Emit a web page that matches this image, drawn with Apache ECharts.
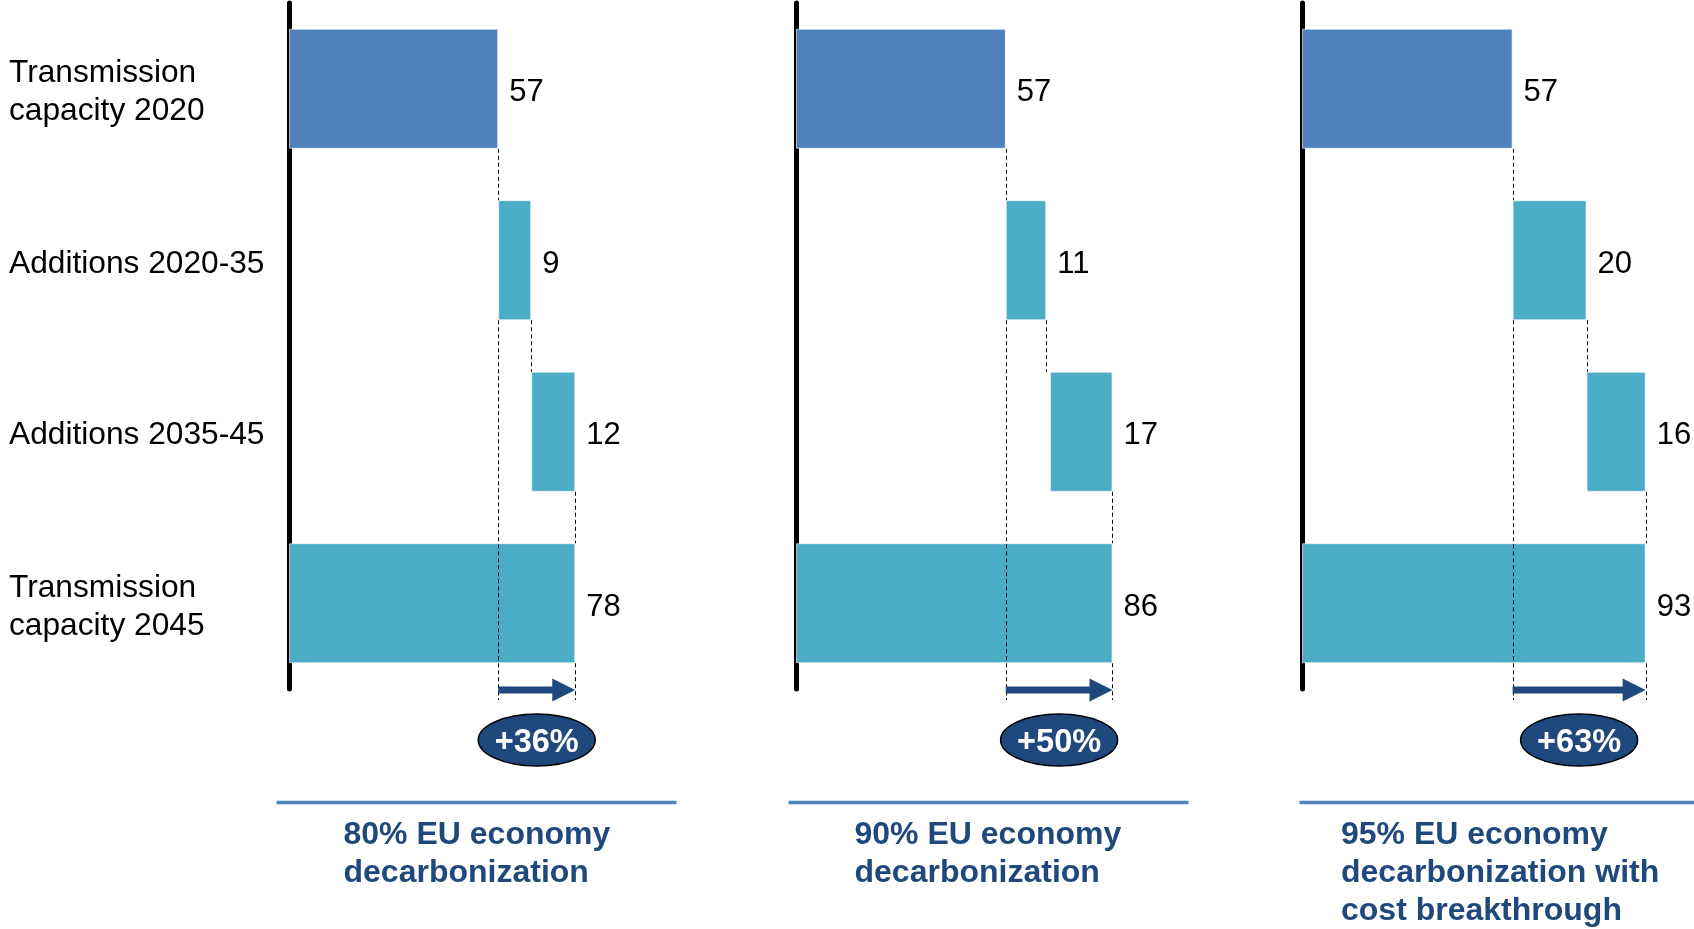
<!DOCTYPE html>
<html>
<head>
<meta charset="utf-8">
<script src="https://cdn.jsdelivr.net/npm/echarts@6/dist/echarts.min.js"></script>
<style>
  html, body { margin: 0; padding: 0; background: #fff; }
  #chart { width: 1694px; height: 929px; }
</style>
</head>
<body>
<div id="chart"></div>
<script>
// Rows of each waterfall (top to bottom)
const categories = ['Transmission\ncapacity 2020', 'Additions 2020-35', 'Additions 2035-45', 'Transmission\ncapacity 2045'];

// One panel per decarbonization scenario
const scenarios = [
  '80% EU economy\ndecarbonization',
  '90% EU economy\ndecarbonization',
  '95% EU economy\ndecarbonization with\ncost breakthrough'
];

// Transmission capacity values per scenario
const capacity2020 = [57, 57, 57];
const additions2020to35 = [9, 11, 20];
const additions2035to45 = [12, 17, 16];
const capacity2045 = [78, 86, 93];
const growthLabels = ['+36%', '+50%', '+63%'];

const FONT = "'Liberation Sans', Arial, Helvetica, sans-serif";
const NAVY = '#1F497D';
const BLUE = '#4F81BD';
const TEAL = '#4BACC6';

// Panel layout in pixels
const gridLefts = [289, 796, 1302];
const gridWidths = [367, 368, 369.5];   // each spans 0..100 on the value axis
const titleLefts = [343.5, 854.5, 1341];
const ruleSpans = [[276.5, 676.5], [788.5, 1188.5], [1299.5, 1694]];

const chart = echarts.init(document.getElementById('chart'), null, { renderer: 'canvas' });

const grid = [], xAxis = [], yAxis = [], series = [], title = [], graphic = [];

// a thin spacer line on top nudges the row labels slightly downward
const rowLabel = v => '{s| }\n' + v.split('\n').map(s => '{l|' + s + '}').join('\n');

scenarios.forEach((name, i) => {
  const base = capacity2020[i];
  const a1 = additions2020to35[i];
  const a2 = additions2035to45[i];
  const total = capacity2045[i];
  const a1End = base + a1;
  const a2Start = total - a2;

  grid.push({ left: gridLefts[i], top: 3, width: gridWidths[i], height: 686 });
  xAxis.push({ type: 'value', gridIndex: i, min: 0, max: 100, show: false });
  yAxis.push({
    type: 'category', gridIndex: i, inverse: true, data: categories,
    offset: 2.5,
    axisLine: { show: true, lineStyle: { color: '#000', width: 5 } },
    axisTick: { show: false },
    splitLine: { show: false },
    axisLabel: {
      show: i === 0, align: 'left', margin: 277.5,
      formatter: rowLabel,
      rich: {
        s: { fontSize: 1, lineHeight: 8 },
        l: { fontFamily: FONT, fontSize: 31.7, lineHeight: 38, color: '#000', align: 'left' }
      }
    }
  });

  // invisible offsets that float the addition bars
  series.push({
    type: 'bar', xAxisIndex: i, yAxisIndex: i, stack: 'w' + i,
    barWidth: '70%', silent: true,
    itemStyle: { color: 'rgba(0,0,0,0)' },
    data: [0, base, a2Start, 0]
  });

  series.push({
    type: 'bar', xAxisIndex: i, yAxisIndex: i, stack: 'w' + i,
    barWidth: '70%',
    itemStyle: { borderColor: 'rgba(255,255,255,0.6)', borderWidth: 1 },
    label: {
      show: true, position: 'right', distance: 11, offset: [0, 4],
      fontFamily: FONT, fontSize: 31, color: '#000'
    },
    data: [
      { value: base, itemStyle: { color: BLUE } },
      { value: a1, itemStyle: { color: TEAL } },
      { value: a2, itemStyle: { color: TEAL } },
      { value: total, itemStyle: { color: TEAL } }
    ],
    z: 2
  });

  // dashed connectors, growth arrow and growth badge
  series.push({
    type: 'custom', xAxisIndex: i, yAxisIndex: i, z: 10, silent: true, clip: false,
    encode: { x: [0, 1, 2, 3], y: 4 },
    data: [[base, a1End, a2Start, total, 0]],
    renderItem: (params, api) => {
      const b = api.value(0), m1 = api.value(1), t = api.value(3);
      const band = api.size([0, 1])[1];
      const half = band * 0.35;
      const yc = k => api.coord([0, k])[1];
      const xp = v => api.coord([v, 0])[0];
      const bottom = yc(3) + band / 2;
      const dash = { stroke: '#000', lineWidth: 1, lineDash: [4, 3], fill: null };
      const seg = (x, y1, y2) => ({ type: 'line', shape: { x1: x, y1: y1, x2: x, y2: y2 }, style: dash });
      const xb = Math.round(xp(b)) + 0.5, xm = Math.round(xp(m1)) + 0.5, xt = Math.round(xp(t)) + 0.5;
      const ay = bottom + 1;
      const cx = (xp(b) + xp(t)) / 2;
      const cy = bottom + 51;
      return {
        type: 'group',
        children: [
          seg(xb, yc(0) + half, yc(1) - half),
          seg(xb, yc(1) + half, bottom + 11),
          seg(xm, yc(1) + half, yc(2) - half),
          seg(xt, yc(2) + half, yc(3) - half),
          seg(xt, yc(3) + half, bottom + 11),
          { type: 'line', shape: { x1: xp(b), y1: ay, x2: xp(t) - 20, y2: ay },
            style: { stroke: NAVY, lineWidth: 7 } },
          { type: 'polygon', shape: { points: [[xp(t), ay], [xp(t) - 23, ay - 11.5], [xp(t) - 23, ay + 11.5]] },
            style: { fill: NAVY } },
          { type: 'ellipse', shape: { cx: cx, cy: cy, rx: 58.5, ry: 26 },
            style: { fill: NAVY, stroke: '#000', lineWidth: 1.5 } },
          { type: 'text', x: cx, y: cy + 3,
            style: { text: growthLabels[i], fill: '#fff', font: 'bold 32.5px ' + FONT,
                     align: 'center', verticalAlign: 'middle' } }
        ]
      };
    }
  });

  title.push({
    text: name, left: titleLefts[i], top: 816, padding: 0,
    textStyle: { fontFamily: FONT, fontSize: 32, fontWeight: 'bold', color: NAVY, lineHeight: 38 }
  });

  graphic.push({
    type: 'line', silent: true,
    shape: { x1: ruleSpans[i][0], y1: 802.5, x2: ruleSpans[i][1], y2: 802.5 },
    style: { stroke: BLUE, lineWidth: 3.5 }
  });
});

chart.setOption({
  backgroundColor: '#fff',
  animation: false,
  title, grid, xAxis, yAxis, series, graphic
});
</script>
</body>
</html>
